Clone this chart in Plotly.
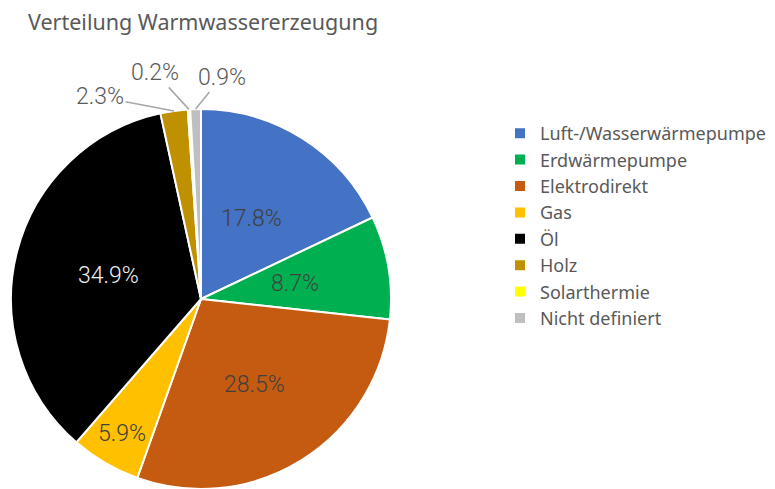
import math
import plotly.graph_objects as go

categories = ["Luft-/Wasserwärmepumpe", "Erdwärmepumpe", "Elektrodirekt", "Gas", "Öl",
              "Holz", "Solarthermie", "Nicht definiert"]
values = [17.8, 8.7, 28.5, 5.9, 34.9, 2.3, 0.2, 0.9]
labels_text = ["17.8%", "8.7%", "28.5%", "5.9%", "34.9%", "2.3%", "0.2%", "0.9%"]
colors = ["#4472C4", "#00B050", "#C55A11", "#FFC000", "#000000", "#BF9000", "#FFFF00", "#BFBFBF"]
text_colors = ["#404040", "#404040", "#404040", "#404040", "#F2F2F2", "#595959", "#595959", "#595959"]
# label placement style: radial fraction for inside labels, None for callouts
label_radius = [0.5, 0.5, 0.53, 0.82, 0.5, None, None, None]
callout_offset = {5: (-74, -14), 6: (-34, -37), 7: (26, -32)}  # label offset in px (style)

W, H = 775, 489
OFF = 8  # page body margin
CX, CY, R = 201 - OFF, 299 - OFF, 190  # pie center/radius in figure pixels
LABEL_FONT = dict(family="Roboto", size=23, weight=300)

fig = go.Figure(go.Pie(
    labels=categories,
    values=values,
    textinfo="none",
    marker=dict(colors=colors, line=dict(color="white", width=2)),
    sort=False,
    direction="clockwise",
    rotation=0,
    hole=0,
    automargin=False,
    domain=dict(x=[(CX - R) / W, (CX + R) / W], y=[(H - CY - R) / H, (H - CY + R) / H]),
    showlegend=True,
))

total = sum(values)
cum = 0.0
for i, v in enumerate(values):
    mid = (cum + v / 2) / total
    cum += v
    theta = 2 * math.pi * mid
    if label_radius[i] is not None:
        r = R * label_radius[i]
        px = CX + r * math.sin(theta)
        py = CY - r * math.cos(theta)
        fig.add_annotation(
            x=px / W, y=1 - py / H, xref="paper", yref="paper",
            text=labels_text[i], showarrow=False, xanchor="center", yanchor="middle",
            font=dict(**LABEL_FONT, color=text_colors[i]),
        )
    else:
        px = CX + R * math.sin(theta)
        py = CY - R * math.cos(theta)
        ax, ay = callout_offset[i]
        fig.add_annotation(
            x=px / W, y=1 - py / H, xref="paper", yref="paper",
            text=labels_text[i], showarrow=True, arrowhead=0, arrowwidth=1.5,
            arrowcolor="#A6A6A6", ax=ax, ay=ay, standoff=0, startstandoff=0,
            font=dict(**LABEL_FONT, color=text_colors[i]),
        )

fig.update_layout(
    width=W, height=H,
    margin=dict(l=0, r=0, t=0, b=0),
    paper_bgcolor="white",
    plot_bgcolor="white",
    title=dict(text="Verteilung Warmwassererzeugung", x=(28 - OFF) / W, xanchor="left",
               y=1 - (22 - OFF) / H, yanchor="middle",
               font=dict(family="Noto Sans", size=21.5, color="#595959")),
    legend=dict(x=(540 - OFF - 40) / W, y=1 - (115 - OFF) / H, xanchor="left", yanchor="top",
                font=dict(family="Noto Sans", size=18, color="#595959"),
                itemwidth=30, traceorder="normal", bgcolor="rgba(0,0,0,0)"),
)

fig.write_html("out.html")
